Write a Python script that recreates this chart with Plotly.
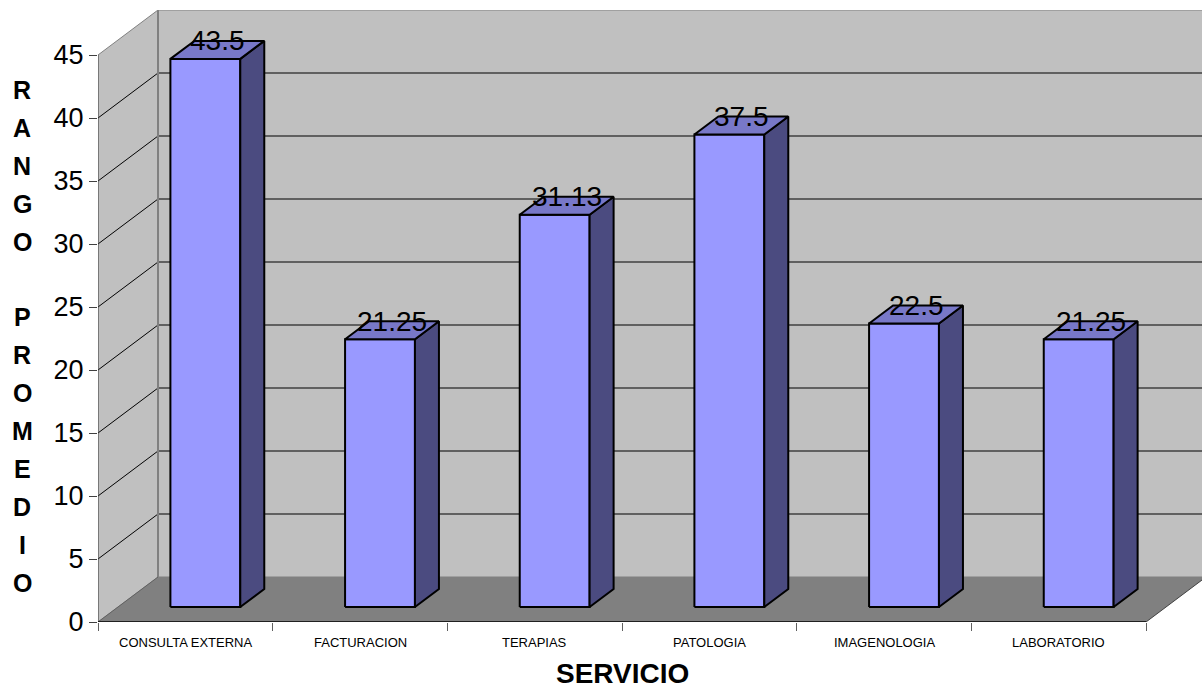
import plotly.graph_objects as go

# Average range per service
categories = ["CONSULTA EXTERNA", "FACTURACION", "TERAPIAS", "PATOLOGIA", "IMAGENOLOGIA", "LABORATORIO"]
values = [43.5, 21.25, 31.13, 37.5, 22.5, 21.25]
value_labels = ["43.5", "21.25", "31.13", "37.5", "22.5", "21.25"]
y_ticks = [0, 5, 10, 15, 20, 25, 30, 35, 40, 45]

FONT = "Liberation Sans, Arial, sans-serif"

# oblique projection: depth d in [0,1] shifts points right by d*DX and up by d*DY
W, H = 1202, 688
ML, MT, MB = 98, 10, 66
PX_PER_CAT = 174.67
PX_PER_UNIT = 12.6
DX = 60 / PX_PER_CAT
DY = 45 / PX_PER_UNIT
YMAX = y_ticks[-1]
n = len(categories)
X0, X1 = -0.5, n - 0.5
xr = [X0, X0 + (W - ML) / PX_PER_CAT]
yr = [0, (H - MT - MB) / PX_PER_UNIT]

BAR_W = 0.4
D0, D1 = 1 / 3, 1 / 3 + 0.4

WALL = "#C0C0C0"
FLOOR = "#808080"
EDGE = "#808080"
FRONT = "#9999FF"
TOP = "#7878C8"
SIDE = "#4B4B80"


def path(pts):
    return "M " + " L ".join(f"{x},{y}" for x, y in pts) + " Z"


shapes = []
# back wall
shapes.append(dict(type="path", xref="x", yref="y", layer="below",
                   path=path([(X0 + DX, DY), (X1 + DX, DY), (X1 + DX, YMAX + DY), (X0 + DX, YMAX + DY)]),
                   fillcolor=WALL, line=dict(color=EDGE, width=1)))
# left side wall
shapes.append(dict(type="path", xref="x", yref="y", layer="below",
                   path=path([(X0, 0), (X0 + DX, DY), (X0 + DX, YMAX + DY), (X0, YMAX)]),
                   fillcolor=WALL, line=dict(color=EDGE, width=1)))
# floor
shapes.append(dict(type="path", xref="x", yref="y", layer="below",
                   path=path([(X0, 0), (X1, 0), (X1 + DX, DY), (X0 + DX, DY)]),
                   fillcolor=FLOOR, line=dict(width=0)))
# gridlines on back and side walls
for v in y_ticks[1:-1]:
    shapes.append(dict(type="line", xref="x", yref="y", layer="below",
                       x0=X0 + DX, x1=X1 + DX, y0=v + DY, y1=v + DY,
                       line=dict(color="#000000", width=1)))
    shapes.append(dict(type="line", xref="x", yref="y", layer="below",
                       x0=X0, x1=X0 + DX, y0=v, y1=v + DY,
                       line=dict(color="#000000", width=1)))
# wall corner and edges
shapes.append(dict(type="line", xref="x", yref="y", layer="below",
                   x0=X0 + DX, x1=X0 + DX, y0=DY, y1=YMAX + DY, line=dict(color=EDGE, width=2)))
shapes.append(dict(type="line", xref="x", yref="y", layer="below",
                   x0=X0, x1=X0 + DX, y0=0, y1=DY, line=dict(color="#606060", width=1)))
shapes.append(dict(type="line", xref="x", yref="y", layer="below",
                   x0=X1, x1=X1 + DX, y0=0, y1=DY, line=dict(color="#404040", width=1)))
# value axis line and category axis line
shapes.append(dict(type="line", xref="x", yref="y", layer="above",
                   x0=X0, x1=X0, y0=0, y1=YMAX, line=dict(color="#505050", width=1)))
shapes.append(dict(type="line", xref="x", yref="y", layer="above",
                   x0=X0, x1=X1, y0=0, y1=0, line=dict(color="#000000", width=1.5)))

fig = go.Figure()

annotations = []
for i, (v, lab) in enumerate(zip(values, value_labels)):
    xl = i - BAR_W / 2 + D0 * DX
    xrt = i + BAR_W / 2 + D0 * DX
    ddx = (D1 - D0) * DX
    b0, b1 = D0 * DY, D1 * DY
    faces = [
        ([xl, xrt, xrt, xl, xl], [b0, b0, v + b0, v + b0, b0], FRONT),
        ([xrt, xrt + ddx, xrt + ddx, xrt, xrt], [b0, b1, v + b1, v + b0, b0], SIDE),
        ([xl, xrt, xrt + ddx, xl + ddx, xl], [v + b0, v + b0, v + b1, v + b1, v + b0], TOP),
    ]
    for fx, fy, col in faces:
        fig.add_trace(go.Scatter(x=fx, y=fy, mode="lines", fill="toself", fillcolor=col,
                                 line=dict(color="#000000", width=2), hoverinfo="skip",
                                 showlegend=False))
    annotations.append(dict(x=i + (D0 + D1) / 2 * DX, y=v + b1, xref="x", yref="y",
                            text=lab, showarrow=False, xanchor="center", yanchor="middle",
                            font=dict(family=FONT, size=28, color="#000000")))

# category labels under each slot
for i, c in enumerate(categories):
    annotations.append(dict(x=i, y=0, xref="x", yref="y", yshift=-20, text=c, showarrow=False,
                            xanchor="center", yanchor="middle",
                            font=dict(family=FONT, size=13, color="#000000")))

# axis titles
annotations.append(dict(x=(X0 + X1) / 2, y=0, xref="x", yref="y", yshift=-51, text="<b>SERVICIO</b>",
                        showarrow=False, xanchor="center", yanchor="middle",
                        font=dict(family=FONT, size=28, color="#000000")))

# vertical, letter-stacked value axis title
title_letters = list("RANGO") + [""] + list("PROMEDIO")
top_px, step_px = 90, 37.9
plot_h = H - MT - MB
for k, ch in enumerate(title_letters):
    if not ch:
        continue
    ypx = top_px + k * step_px
    annotations.append(dict(x=0, y=(H - MB - ypx) / plot_h, xref="paper", yref="paper",
                            xshift=22 - ML, text=f"<b>{ch}</b>", showarrow=False,
                            xanchor="center", yanchor="middle",
                            font=dict(family=FONT, size=25, color="#000000")))

fig.update_layout(
    width=W, height=H,
    margin=dict(l=ML, r=0, t=MT, b=MB, pad=0),
    paper_bgcolor="#FFFFFF", plot_bgcolor="#FFFFFF",
    shapes=shapes, annotations=annotations, showlegend=False,
    xaxis=dict(range=xr, showgrid=False, zeroline=False, showline=False,
               tickmode="array", tickvals=[X0 + k for k in range(n + 1)],
               ticktext=[""] * (n + 1), ticks="outside", ticklen=8, tickcolor="#606060",
               fixedrange=True, automargin=False),
    yaxis=dict(range=yr, showgrid=False, zeroline=False, showline=False,
               tickmode="array", tickvals=y_ticks, ticktext=[str(t) for t in y_ticks],
               ticks="outside", ticklen=8, tickcolor="#404040",
               tickfont=dict(family=FONT, size=27, color="#000000"),
               fixedrange=True, automargin=False),
)

fig.write_html("out.html")
